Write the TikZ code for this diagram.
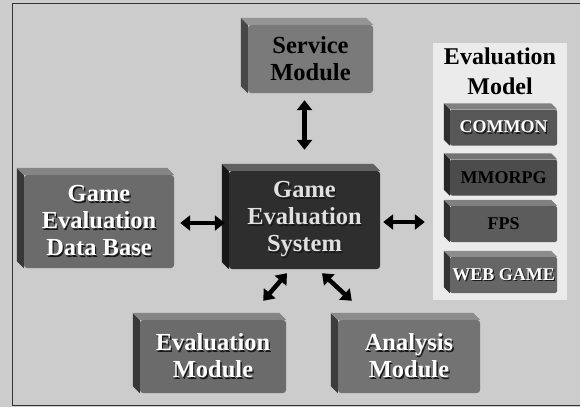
\documentclass[tikz,border=0pt]{standalone}
\usepackage{fontspec}
\setmainfont{Liberation Serif}
\usetikzlibrary{arrows.meta}

% white lettering with a dark drop shadow
\newcommand\shtxt[1]{\leavevmode\rlap{\hspace{1.3pt}\raisebox{-1.3pt}{\textcolor{black!90}{#1}}}#1}

\tikzset{
  block/.style={fill=#1, rounded corners=3pt, inner sep=0pt, align=center,
    font=\fontsize{24.5}{27}\selectfont\bfseries},
  bar/.style={fill=#1, rounded corners=2pt, minimum width=107pt, minimum height=36pt,
    inner sep=0pt, font=\fontsize{18}{20}\selectfont\bfseries},
  dblarrow/.style={{Triangle[length=10pt,width=15pt]}-{Triangle[length=10pt,width=15pt]},
    line width=4.5pt, black},
}

\begin{document}
\begin{tikzpicture}[x=1pt,y=-1pt]
  % fondo y marco
  \useasboundingbox (0,0) rectangle (580,407);
  \fill[black!20] (0,0) rectangle (580,407);
  \draw[line width=1pt, black!80] (12,3) rectangle (590,405);

  % bloques principales
  \node[block=black!52, minimum width=125pt, minimum height=68pt] (service) at (310.5,59) {Service\\Module};
  \node[block=black!58, text=white, minimum width=150pt, minimum height=93pt] (db) at (99,221.5)
    {\shtxt{Game}\\\shtxt{Evaluation}\\\shtxt{Data Base}};
  \node[block=black!82, text=black!12, minimum width=151pt, minimum height=98pt] (system) at (304.5,220)
    {\shtxt{Game}\\\shtxt{Evaluation}\\\shtxt{System}};
  \node[block=black!58, text=white, minimum width=146pt, minimum height=73pt] (evalmod) at (213,356.5)
    {\shtxt{Evaluation}\\\shtxt{Module}};
  \node[block=black!55, text=white, minimum width=142pt, minimum height=73pt] (analysis) at (409,356.5)
    {\shtxt{Analysis}\\\shtxt{Module}};

  % modelo de evaluacion
  \node[fill=black!8, minimum width=134pt, minimum height=257pt] (panel) at (500,171.5) {};
  \node[align=center, font=\fontsize{24}{30}\selectfont\bfseries] (modeltitle) at (500,71) {Evaluation\\Model};
  \node[bar=black!66, text=white] (common) at (503.5,127.5) {\shtxt{COMMON}};
  \node[bar=black!70] (mmorpg) at (503.5,177.5) {MMORPG};
  \node[bar=black!64] (fps) at (503.5,224) {FPS};
  \node[bar=black!60, text=white] (webgame) at (503.5,275) {\shtxt{WEB GAME}};

  % caras laterales y superiores (efecto 3D)
  \foreach \n/\s/\t/\d in {service/black!72/black!42/7, db/black!78/black!48/7, system/black!90/black!62/7,
      evalmod/black!78/black!48/7, analysis/black!76/black!45/7, common/black!82/black!50/6,
      mmorpg/black!85/black!55/6, fps/black!82/black!50/6, webgame/black!80/black!45/6} {
    \fill[\s] (\n.north west) -- ++(-\d,-\d) -- ([shift={(-\d,-\d)}]\n.south west) -- (\n.south west) -- cycle;
    \fill[\t] (\n.north west) -- ++(-\d,-\d) -- ([shift={(-\d,-\d)}]\n.north east) -- (\n.north east) -- cycle;
  }

  % flechas
  \draw[dblarrow] ([xshift=-6pt,yshift=-7pt]service.south) -- ([yshift=21pt]system.north);
  \draw[dblarrow] ([xshift=6pt,yshift=-1.5pt]db.east) -- ([xshift=-4pt,yshift=-3pt]system.west);
  \draw[dblarrow] ([xshift=3pt,yshift=-2pt]system.east) -- ([xshift=-8pt,yshift=-50.5pt]panel.west);
  \draw[dblarrow] ([xshift=-17.5pt,yshift=-4pt]system.south) -- ([xshift=-23pt,yshift=19pt]evalmod.north east);
  \draw[dblarrow] ([xshift=17.5pt,yshift=-4pt]system.south) -- ([xshift=14pt,yshift=19pt]analysis.north west);
\end{tikzpicture}
\end{document}
